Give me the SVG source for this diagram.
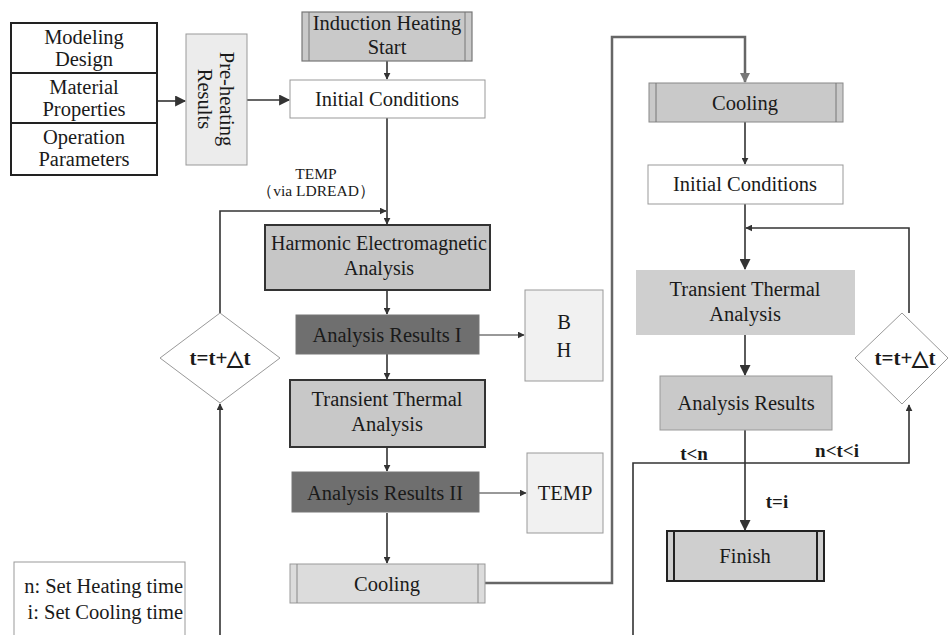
<svg xmlns="http://www.w3.org/2000/svg" width="948" height="635" viewBox="0 0 948 635">
<defs>
<style>
text{font-family:"Liberation Serif","Times New Roman",serif;fill:#1a1a1a;text-anchor:middle;}
.t{font-size:20.5px;}
.s{font-size:15.5px;}
.b{font-weight:bold;font-size:21px;}
.bl{font-weight:bold;font-size:19px;}
.ln{fill:none;stroke:#333;stroke-width:1.6;}
.lg{fill:none;stroke:#666;stroke-width:2.5;}
.th{fill:none;stroke:#333;stroke-width:1;}
</style>
<marker id="a" viewBox="0 0 10 10" refX="9" refY="5" markerWidth="7" markerHeight="7" markerUnits="userSpaceOnUse" orient="auto"><path d="M0,0L10,5L0,10z" fill="#333"/></marker>
<marker id="ab" viewBox="0 0 10 10" refX="9" refY="5" markerWidth="12" markerHeight="11" markerUnits="userSpaceOnUse" orient="auto"><path d="M0,0L10,5L0,10z" fill="#333"/></marker>
<marker id="ag" viewBox="0 0 10 10" refX="9" refY="5" markerWidth="11" markerHeight="10" markerUnits="userSpaceOnUse" orient="auto"><path d="M0,0L10,5L0,10z" fill="#777"/></marker>
</defs>
<rect width="948" height="635" fill="#fff"/>

<g id="connectors">
<path class="ln" d="M157,101H185" stroke-width="3" marker-end="url(#ab)"/>
<path class="ln" d="M247,100H289" stroke-width="3" marker-end="url(#ab)"/>
<path class="ln" d="M387,61V79" marker-end="url(#a)"/>
<path class="ln" d="M387,118V224" marker-end="url(#a)"/>
<path class="ln" d="M220,313V211H386" marker-end="url(#a)"/>
<path class="ln" d="M387,290V314" marker-end="url(#a)"/>
<path class="th" d="M479,335H524" marker-end="url(#a)"/>
<path class="ln" d="M387,354V379" marker-end="url(#a)"/>
<path class="ln" d="M387,447V471" marker-end="url(#a)"/>
<path class="th" d="M479,493H526" marker-end="url(#a)"/>
<path class="ln" d="M387,513V563" marker-end="url(#a)"/>
<path class="ln" d="M220,635V404" marker-end="url(#a)"/>
<path class="lg" d="M485,583H612V37H745V82" marker-end="url(#ag)"/>
<path class="ln" d="M745,122V164" marker-end="url(#a)"/>
<path class="ln" d="M745,204V269" stroke-width="2.2" marker-end="url(#ab)"/>
<path class="ln" d="M909,313V228H746" marker-end="url(#a)"/>
<path class="ln" d="M745,335V375" stroke-width="2.2" marker-end="url(#ab)"/>
<path class="ln" d="M745,430V530" stroke-width="2.5" marker-end="url(#ab)"/>
<path class="ln" d="M633,635V463H909V405" stroke-width="2" marker-end="url(#a)"/>
</g>

<g id="inputs">
<rect x="11" y="23" width="146" height="152" fill="#fff" stroke="#222" stroke-width="2"/>
<path d="M11,73H157M11,123H157" stroke="#222" stroke-width="2"/>
<text class="t" x="84" y="44">Modeling</text>
<text class="t" x="84" y="66">Design</text>
<text class="t" x="84" y="94">Material</text>
<text class="t" x="84" y="116">Properties</text>
<text class="t" x="84" y="144">Operation</text>
<text class="t" x="84" y="166">Parameters</text>
</g>

<g id="preheating">
<rect x="186" y="34" width="61" height="131" fill="#ececec" stroke="#999" stroke-width="1"/>
<text class="t" transform="translate(220,99) rotate(90)">Pre-heating</text>
<text class="t" transform="translate(198,99) rotate(90)">Results</text>
</g>

<g id="start">
<rect x="302" y="12" width="170" height="49" fill="#c9c9c9" stroke="#777" stroke-width="1.2"/>
<path d="M309,12V61M465,12V61" stroke="#777" stroke-width="1"/>
<text class="t" x="387" y="30">Induction Heating</text>
<text class="t" x="387" y="54">Start</text>
</g>

<g id="init1">
<rect x="290" y="80" width="195" height="38" fill="#fff" stroke="#999" stroke-width="1"/>
<text class="t" x="387" y="106">Initial Conditions</text>
</g>

<text class="s" x="316" y="179">TEMP</text>
<text class="s" x="316" y="196">（via LDREAD）</text>

<g id="harmonic">
<rect x="265" y="225" width="225" height="65" fill="#c6c6c6" stroke="#333" stroke-width="2"/>
<text class="t" x="379" y="250" style="font-size:20px">Harmonic Electromagnetic</text>
<text class="t" x="379" y="275" style="font-size:20px">Analysis</text>
</g>

<g id="res1">
<rect x="296" y="315" width="183" height="39" fill="#6f6f6f" stroke="#777" stroke-width="1"/>
<text class="t" x="387" y="342">Analysis Results I</text>
</g>

<g id="bh">
<rect x="525" y="290" width="78" height="91" fill="#f1f1f1" stroke="#999" stroke-width="1"/>
<text class="t" x="564" y="329">B</text>
<text class="t" x="564" y="357">H</text>
</g>

<g id="transient1">
<rect x="290" y="380" width="195" height="67" fill="#c8c8c8" stroke="#333" stroke-width="2"/>
<text class="t" x="387" y="406">Transient Thermal</text>
<text class="t" x="387" y="431">Analysis</text>
</g>

<g id="res2">
<rect x="292" y="472" width="187" height="40" fill="#6f6f6f" stroke="#777" stroke-width="1"/>
<text class="t" x="385" y="500">Analysis Results II</text>
</g>

<g id="temp">
<rect x="527" y="453" width="76" height="80" fill="#f1f1f1" stroke="#999" stroke-width="1"/>
<text class="t" x="565" y="500">TEMP</text>
</g>

<g id="cooling1">
<rect x="290" y="564" width="195" height="39" fill="#dcdcdc" stroke="#999" stroke-width="1"/>
<path d="M297,564V603M478,564V603" stroke="#888" stroke-width="1"/>
<text class="t" x="387" y="591">Cooling</text>
</g>

<g id="loop1">
<polygon points="220,313 280,358 220,403 160,358" fill="#fff" stroke="#999" stroke-width="1"/>
<text class="b" x="220" y="365">t=t+△t</text>
</g>

<g id="legend">
<rect x="14" y="562" width="171" height="80" fill="#fff" stroke="#999" stroke-width="1"/>
<text class="t" x="183" y="593" style="text-anchor:end">n: Set Heating time</text>
<text class="t" x="183" y="619" style="text-anchor:end">i: Set Cooling time</text>
</g>

<g id="cooling2">
<rect x="649" y="83" width="194" height="39" fill="#c9c9c9" stroke="#888" stroke-width="1"/>
<path d="M656,83V122M836,83V122" stroke="#777" stroke-width="1"/>
<text class="t" x="745" y="110">Cooling</text>
</g>

<g id="init2">
<rect x="648" y="165" width="195" height="39" fill="#fff" stroke="#999" stroke-width="1"/>
<text class="t" x="745" y="191">Initial Conditions</text>
</g>

<g id="transient2">
<rect x="636" y="270" width="219" height="65" fill="#cfcfcf"/>
<text class="t" x="745" y="296">Transient Thermal</text>
<text class="t" x="745" y="321">Analysis</text>
</g>

<g id="res3">
<rect x="660" y="376" width="172" height="54" fill="#c9c9c9" stroke="#999" stroke-width="1"/>
<text class="t" x="746" y="410">Analysis Results</text>
</g>

<g id="loop2">
<polygon points="902,313 948,358 902,404 855,358" fill="#fff" stroke="#999" stroke-width="1"/>
<text class="b" x="905" y="365">t=t+△t</text>
</g>

<text class="bl" x="694" y="460">t&lt;n</text>
<text class="bl" x="837" y="457">n&lt;t&lt;i</text>
<text class="bl" x="777" y="508">t=i</text>

<g id="finish">
<rect x="667" y="531" width="157" height="50" fill="#cfcfcf" stroke="#222" stroke-width="2"/>
<path d="M674,531V581M817,531V581" stroke="#222" stroke-width="2"/>
<text class="t" x="745" y="563">Finish</text>
</g>
</svg>
